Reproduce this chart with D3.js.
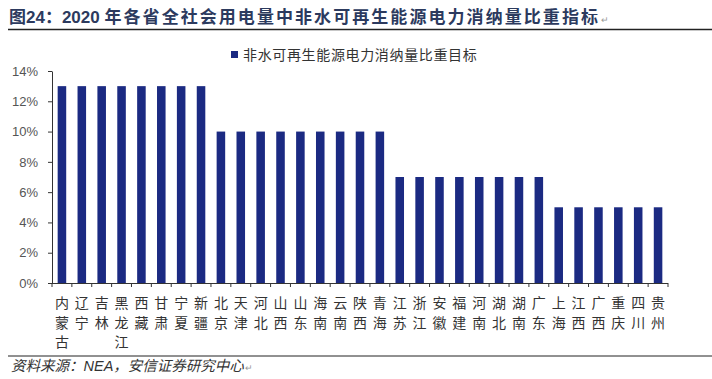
<!DOCTYPE html>
<html><head><meta charset="utf-8">
<script src="https://cdn.jsdelivr.net/npm/d3@7"></script>
<style>body{margin:0;background:#fff} svg{display:block}</style>
</head><body>
<svg id="c" width="712" height="379"></svg>
<script>
const provinces = ["内蒙古","辽宁","吉林","黑龙江","西藏","甘肃","宁夏","新疆","北京","天津","河北","山西","山东","海南","云南","陕西","青海","江苏","浙江","安徽","福建","河南","湖北","湖南","广东","上海","江西","广西","重庆","四川","贵州"];
const targets = [13,13,13,13,13,13,13,13,10,10,10,10,10,10,10,10,10,7,7,7,7,7,7,7,7,5,5,5,5,5,5];
const yTicks = [0,2,4,6,8,10,12,14];
const seriesName = "非水可再生能源电力消纳量比重目标";
const titleHead = "图24：2020 ";
const titleTail = "年各省全社会用电量中非水可再生能源电力消纳量比重指标";
const sourceText = "资料来源：NEA，安信证券研究中心";

const svg = d3.select("#c");
const cjk = "'Noto Sans CJK SC', sans-serif";
const barColor = "#1b2a82";

const x = d3.scaleBand().domain(provinces).range([52, 668]).paddingInner(0.57).paddingOuter(0.285);
const y = d3.scaleLinear().domain([0, 14]).range([283, 71]);

// title
const title = svg.append("text").attr("x", 9).attr("y", 23)
  .attr("font-family", "'Liberation Sans', 'Noto Sans CJK SC', sans-serif")
  .attr("font-weight", "bold").attr("font-size", 17).attr("fill", "#2c3a5e");
title.append("tspan").text(titleHead);
const tail = title.append("tspan").text(titleTail);
{
  const startX = 9 + title.node().getSubStringLength(0, titleHead.length);
  const len = tail.node().getComputedTextLength();
  const ls = Math.max(0, (600 - startX - len) / titleTail.length);
  tail.attr("letter-spacing", ls);
}
title.append("tspan").attr("font-size", 9).attr("font-weight", "normal").attr("fill", "#999").attr("dx", 1).text("↵");
svg.append("line").attr("x1", 8).attr("x2", 712).attr("y1", 29.5).attr("y2", 29.5)
  .attr("stroke", "#222").attr("stroke-width", 1.5);

// bars
svg.append("g").selectAll("rect").data(provinces).join("rect")
  .attr("x", d => x(d)).attr("width", x.bandwidth())
  .attr("y", (d, i) => y(targets[i])).attr("height", (d, i) => y(0) - y(targets[i]))
  .attr("fill", barColor);

// y axis
const yAxis = svg.append("g").attr("transform", "translate(52,0)")
  .call(d3.axisLeft(y).tickValues(yTicks).tickFormat(d => d + "%").tickSize(4).tickPadding(10).tickSizeOuter(0));
yAxis.select(".domain").attr("stroke", "#333");
yAxis.selectAll(".tick line").attr("stroke", "#333");
yAxis.selectAll("text").attr("font-family", "'Liberation Sans', sans-serif").attr("font-size", 13).attr("fill", "#555");

// x axis line and boundary ticks
const gx = svg.append("g");
gx.append("line").attr("x1", x.range()[0]).attr("x2", x.range()[1]).attr("y1", y(0) + 0.5).attr("y2", y(0) + 0.5)
  .attr("stroke", "#333");
const off = (x.step() - x.bandwidth()) / 2;
const bounds = provinces.map(d => x(d) - off).concat([x.range()[1]]);
gx.selectAll("line.t").data(bounds).join("line").attr("class", "t")
  .attr("x1", d => d).attr("x2", d => d).attr("y1", y(0)).attr("y2", y(0) + 4).attr("stroke", "#333");

// x labels (vertical stacked characters)
const lab = svg.append("g").selectAll("text").data(provinces).join("text")
  .attr("font-family", cjk).attr("font-size", 14).attr("fill", "#333").attr("text-anchor", "middle");
lab.each(function(d) {
  const t = d3.select(this);
  Array.from(d).forEach((ch, k) => {
    t.append("tspan").attr("x", x(d) + x.bandwidth() / 2).attr("y", 308 + k * 19.5).text(ch);
  });
});

// legend
svg.append("rect").attr("x", 231).attr("y", 51).attr("width", 7).attr("height", 7).attr("fill", barColor);
svg.append("text").attr("x", 243).attr("y", 60).attr("font-family", cjk).attr("font-size", 14)
  .attr("letter-spacing", 0.65).attr("fill", "#333").text(seriesName);

// source
svg.append("line").attr("x1", 8).attr("x2", 712).attr("y1", 356).attr("y2", 356)
  .attr("stroke", "#222").attr("stroke-width", 1);
const src = svg.append("text").attr("x", 11).attr("y", 371).attr("font-family", "'Liberation Sans', 'Noto Sans CJK SC', sans-serif")
  .attr("font-style", "italic").attr("font-size", 14.5).attr("fill", "#333");
src.append("tspan").text(sourceText);
src.append("tspan").attr("font-size", 9).attr("font-style", "normal").attr("fill", "#999").attr("dx", 1).text("↵");
</script>
</body></html>
